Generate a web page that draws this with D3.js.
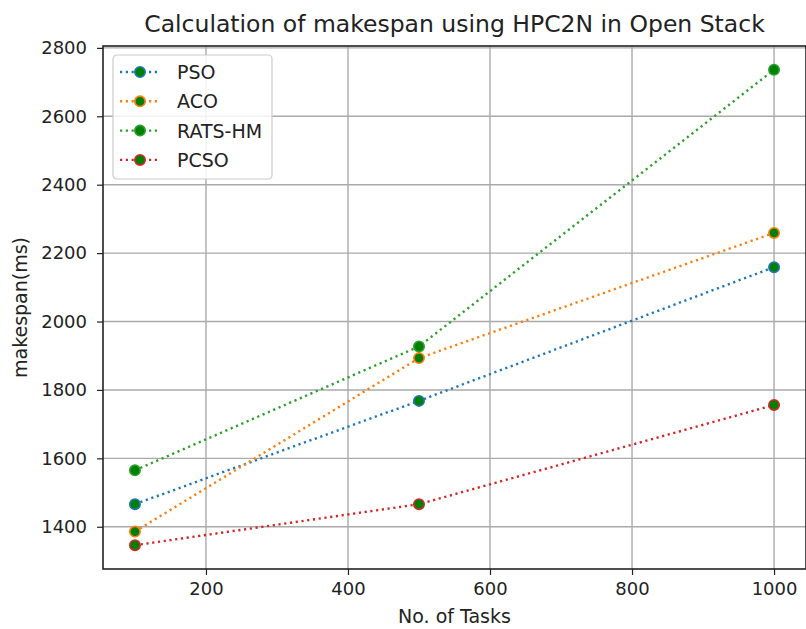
<!DOCTYPE html>
<html>
<head>
<meta charset="utf-8">
<script src="https://cdn.jsdelivr.net/npm/d3@7"></script>
<style>
  body { margin: 0; background: #fff; }
  text { font-family: "DejaVu Sans", sans-serif; fill: #222; }
</style>
</head>
<body>
<svg id="chart"></svg>
<script>
const tasks = [100, 500, 1000];
const pso = [1466, 1768, 2159];
const aco = [1386, 1893, 2259];
const ratsHm = [1565, 1927, 2736];
const pcso = [1346, 1466, 1756];
const seriesNames = ["PSO", "ACO", "RATS-HM", "PCSO"];
const seriesColors = ["#1f77b4", "#ff7f0e", "#2ca02c", "#d62728"];
const xTicks = [200, 400, 600, 800, 1000];
const yTicks = [1400, 1600, 1800, 2000, 2200, 2400, 2600, 2800];

const width = 806, height = 629;
const margin = {top: 46, right: 0, bottom: 60, left: 103};
const series = [pso, aco, ratsHm, pcso].map((vals, i) => ({
    name: seriesNames[i],
    color: seriesColors[i],
    points: vals.map((v, j) => ({x: tasks[j], y: v}))
}));

const svg = d3.select("#chart").attr("width", width).attr("height", height);

// matplotlib style 5% margins
const allY = [].concat(pso, aco, ratsHm, pcso);
const yMin = d3.min(allY), yMax = d3.max(allY);
const yPad = (yMax - yMin) * 0.05;
const xPad = (d3.max(tasks) - d3.min(tasks)) * 0.05;

const x = d3.scaleLinear()
    .domain([d3.min(tasks) - xPad, d3.max(tasks) + xPad])
    .range([margin.left, width - margin.right]);
const y = d3.scaleLinear()
    .domain([yMin - yPad, yMax + yPad])
    .range([height - margin.bottom, margin.top]);

// grid
const grid = svg.append("g");
grid.selectAll(".vgrid").data(xTicks).join("line")
    .attr("x1", d => x(d)).attr("x2", d => x(d))
    .attr("y1", margin.top).attr("y2", height - margin.bottom)
    .attr("stroke", "#aaa").attr("stroke-width", 1.4);
grid.selectAll(".hgrid").data(yTicks).join("line")
    .attr("x1", margin.left).attr("x2", width - margin.right)
    .attr("y1", d => y(d)).attr("y2", d => y(d))
    .attr("stroke", "#aaa").attr("stroke-width", 1.4);

// axes
const xAxis = svg.append("g")
    .attr("transform", `translate(0,${height - margin.bottom})`)
    .call(d3.axisBottom(x).tickValues(xTicks).tickFormat(d3.format("d")).tickSize(6).tickPadding(7));
const yAxis = svg.append("g")
    .attr("transform", `translate(${margin.left},0)`)
    .call(d3.axisLeft(y).tickValues(yTicks).tickFormat(d3.format("d")).tickSize(6).tickPadding(10));
[xAxis, yAxis].forEach(a => {
    a.select(".domain").remove();
    a.selectAll(".tick line").attr("stroke", "#222").attr("stroke-width", 1.2);
    a.selectAll(".tick text").attr("font-size", "18px").attr("fill", "#222")
        .style("font-family", "DejaVu Sans, sans-serif");
});

// frame
svg.append("rect")
    .attr("x", margin.left).attr("y", margin.top)
    .attr("width", width - margin.right - margin.left)
    .attr("height", height - margin.bottom - margin.top)
    .attr("fill", "none").attr("stroke", "#222").attr("stroke-width", 1.6);

// lines and markers
const line = d3.line().x(d => x(d.x)).y(d => y(d.y));
const lines = svg.append("g");
series.forEach(s => {
    lines.append("path")
        .datum(s.points)
        .attr("d", line)
        .attr("fill", "none")
        .attr("stroke", s.color)
        .attr("stroke-width", 2.4)
        .attr("stroke-dasharray", "2.2,3.6");
    lines.selectAll(null).data(s.points).join("circle")
        .attr("cx", d => x(d.x)).attr("cy", d => y(d.y))
        .attr("r", 5.2)
        .attr("fill", "#008000")
        .attr("stroke", s.color)
        .attr("stroke-width", 1.6);
});

// title and labels
svg.append("text")
    .attr("x", (margin.left + width - margin.right) / 2).attr("y", 32)
    .attr("text-anchor", "middle").attr("font-size", "23.5px")
    .text("Calculation of makespan using HPC2N in Open Stack");
svg.append("text")
    .attr("x", (margin.left + width - margin.right) / 2).attr("y", 623)
    .attr("text-anchor", "middle").attr("font-size", "19px")
    .text("No. of Tasks");
svg.append("text")
    .attr("transform", `translate(27,${(margin.top + height - margin.bottom) / 2}) rotate(-90)`)
    .attr("text-anchor", "middle").attr("font-size", "19px")
    .text("makespan(ms)");

// legend
const legend = svg.append("g").attr("transform", "translate(113,55)");
legend.append("rect")
    .attr("width", 159).attr("height", 124).attr("rx", 4)
    .attr("fill", "#fff").attr("fill-opacity", 0.85)
    .attr("stroke", "#ccc").attr("stroke-width", 1.2);
series.forEach((s, i) => {
    const g = legend.append("g").attr("transform", `translate(0,${17 + i * 29.3})`);
    g.append("line")
        .attr("x1", 7).attr("x2", 45)
        .attr("stroke", s.color).attr("stroke-width", 2.4)
        .attr("stroke-dasharray", "2.2,3.6");
    g.append("circle").attr("cx", 27).attr("r", 5.2)
        .attr("fill", "#008000").attr("stroke", s.color).attr("stroke-width", 1.6);
    g.append("text").attr("x", 64).attr("y", 7).attr("font-size", "19px").text(s.name);
});
</script>
</body>
</html>
